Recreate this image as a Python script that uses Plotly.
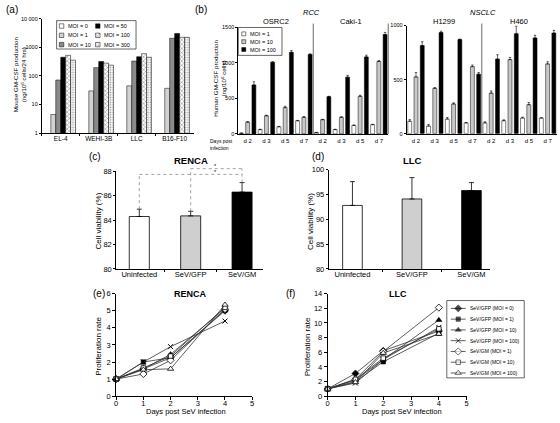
import plotly.graph_objects as go

W, H = 560, 423
FONT = "Liberation Sans, Arial, sans-serif"

# ======================= DATA =======================
# (a) mouse GM-CSF production (ng/10^6 cells/24 hrs), log scale
a_cells = ["EL-4", "WEHI-3B", "LLC", "B16-F10"]
a_moi_names = ["MOI = 0", "MOI = 1", "MOI = 10", "MOI = 50", "MOI = 100", "MOI = 300"]
a_moi0 = [None, None, None, None]          # not detected
a_moi1 = [4.5, 30, 45, 37]
a_moi10 = [72, 195, 330, 2070]
a_moi50 = [450, 320, 470, 3050]
a_moi100 = [525, 280, 600, 2230]
a_moi300 = [355, 238, 450, 2230]
a_tickvals = [1, 10, 100, 1000, 10000]
a_ticktext = ["1", "10", "100", "1000", "10 000"]

# (b) human GM-CSF production (ng/10^6 cells)
b_days = ["d 2", "d 3", "d 5", "d 7"]
b_moi_names = ["MOI = 1", "MOI = 10", "MOI = 100"]
b_rcc_lines = ["OSRC2", "Caki-1"]
b_nsclc_lines = ["H1299", "H460"]
# each list: first cell line d2,d3,d5,d7 then second cell line d2,d3,d5,d7
b_rcc_moi1 = [10, 60, 100, 185, 20, 60, 120, 130]
b_rcc_moi1_err = [0, 5, 5, 5, 0, 5, 5, 5]
b_rcc_moi10 = [165, 255, 370, 235, 200, 235, 530, 1020]
b_rcc_moi10_err = [8, 8, 20, 8, 5, 5, 15, 15]
b_rcc_moi100 = [690, 1010, 1150, 1120, 525, 800, 1085, 1400]
b_rcc_moi100_err = [45, 8, 25, 8, 5, 25, 25, 30]
b_nsclc_moi1 = [115, 70, 135, 100, 100, 120, 145, 145]
b_nsclc_moi1_err = [15, 15, 15, 3, 10, 8, 8, 3]
b_nsclc_moi10 = [525, 420, 275, 620, 375, 685, 268, 645]
b_nsclc_moi10_err = [40, 5, 10, 15, 20, 20, 20, 20]
b_nsclc_moi100 = [815, 935, 870, 550, 690, 925, 885, 930]
b_nsclc_moi100_err = [35, 12, 5, 15, 40, 70, 25, 25]

# (c)/(d) cell viability (%)
cd_groups = ["Uninfected", "SeV/GFP", "SeV/GM"]
c_vals = [84.3, 84.35, 86.3]
c_err = [0.6, 0.38, 0.78]
d_vals = [92.8, 94.1, 95.8]
d_err = [4.8, 4.3, 1.6]

# (e)/(f) proliferation rate
ef_days = [0, 1, 2, 4]
ef_names = ["SeV/GFP (MOI = 0)", "SeV/GFP (MOI = 1)", "SeV/GFP (MOI = 10)",
            "SeV/GFP (MOI = 100)", "SeV/GM (MOI = 1)", "SeV/GM (MOI = 10)",
            "SeV/GM (MOI = 100)"]
e_gfp0 = [1, 1.6, 2.25, 5.0]
e_gfp1 = [1, 2.0, 2.25, 5.05]
e_gfp10 = [1, 1.6, 2.45, 5.15]
e_gfp100 = [1, 2.0, 2.9, 4.4]
e_gm1 = [1, 1.3, 2.1, 5.1]
e_gm10 = [1, 1.65, 2.35, 5.2]
e_gm100 = [1, 1.55, 1.6, 5.35]
f_gfp0 = [1, 3.1, 6.2, 8.9]
f_gfp1 = [1, 2.0, 4.7, 8.6]
f_gfp10 = [1, 2.2, 5.0, 10.4]
f_gfp100 = [1, 1.8, 5.0, 9.4]
f_gm1 = [1, 2.3, 6.1, 12.1]
f_gm10 = [1, 2.3, 5.2, 9.2]
f_gm100 = [1, 1.9, 5.9, 8.5]

# ======================= LAYOUT (pixels) =======================
A = dict(l=40, r=193, t=15, b=132)
BR = dict(l=238, r=389, t=24, b=132.7)
BN = dict(l=407.5, r=559, t=22, b=132.5)
C = dict(l=115, r=263, t=171, b=270.7)
D = dict(l=329, r=492, t=169.3, b=270.7)
E = dict(l=115, r=252, t=296, b=400.7)
F = dict(l=328, r=468, t=296, b=400.7)


def dx(p):
    return [p['l'] / W, p['r'] / W]


def dy(p):
    return [1 - p['b'] / H, 1 - p['t'] / H]


def tf(size):
    return dict(family=FONT, size=size, color='black')


def axstyle(**kw):
    d = dict(showline=True, linecolor='black', linewidth=0.8, showgrid=False,
             zeroline=False, ticks='outside', ticklen=2, tickwidth=0.7,
             tickcolor='black', tickfont=tf(7), fixedrange=True)
    d.update(kw)
    return d


A_STYLES = [
    dict(color='white'),
    dict(color='#d2d2d2'),
    dict(color='#8a8a8a'),
    dict(color='black'),
    dict(color='white', pattern=dict(shape='x', fgcolor='black', bgcolor='white', size=3, solidity=0.3)),
    dict(color='white', pattern=dict(shape='.', fgcolor='#444444', bgcolor='white', size=2.5, solidity=0.35)),
]
B_COLORS = ['white', '#c8c8c8', 'black']
CD_COLORS = ['white', '#cfcfcf', 'black']


def bar_marker(st, lw=0.5):
    m = dict(color=st.get('color', 'white'), line=dict(color='black', width=lw))
    if 'pattern' in st:
        m['pattern'] = st['pattern']
    return m


fig = go.Figure()

# ---- (a) ----
a_series = [a_moi0, a_moi1, a_moi10, a_moi50, a_moi100, a_moi300]
A_BW = 0.13
for k, vals in enumerate(a_series):
    fig.add_trace(go.Bar(x=a_cells, y=vals, width=A_BW, offset=(k - 3) * A_BW,
                         marker=bar_marker(A_STYLES[k]), name=a_moi_names[k],
                         xaxis='x', yaxis='y', showlegend=False, hoverinfo='skip'))

# ---- (b) ----
B_BW, B_STEP = 0.21, 0.333
b_x = list(range(len(b_rcc_moi1)))
rcc = [(b_rcc_moi1, b_rcc_moi1_err), (b_rcc_moi10, b_rcc_moi10_err), (b_rcc_moi100, b_rcc_moi100_err)]
nsclc = [(b_nsclc_moi1, b_nsclc_moi1_err), (b_nsclc_moi10, b_nsclc_moi10_err), (b_nsclc_moi100, b_nsclc_moi100_err)]
for group, (xa, ya) in ((rcc, ('x2', 'y2')), (nsclc, ('x3', 'y3'))):
    for k, (vals, err) in enumerate(group):
        fig.add_trace(go.Bar(
            x=b_x, y=vals, width=B_BW, offset=(k - 1) * B_STEP - B_BW / 2,
            marker=dict(color=B_COLORS[k], line=dict(color='black', width=0.5)),
            error_y=dict(type='data', array=err, arrayminus=[0] * len(err), symmetric=False,
                         color='black', thickness=0.6, width=1.2),
            name=b_moi_names[k], xaxis=xa, yaxis=ya, showlegend=False, hoverinfo='skip'))

# ---- (c), (d) ----
C_BW, D_BW = 0.39, 0.33
for vals, err, bw, xa, ya in ((c_vals, c_err, C_BW, 'x4', 'y4'), (d_vals, d_err, D_BW, 'x5', 'y5')):
    fig.add_trace(go.Bar(
        x=cd_groups, y=vals, width=bw, offset=-bw / 2,
        marker=dict(color=CD_COLORS, line=dict(color='black', width=0.8)),
        error_y=dict(type='data', array=err, arrayminus=[0] * len(err), symmetric=False,
                     color='black', thickness=0.8, width=2.5),
        xaxis=xa, yaxis=ya, showlegend=False, hoverinfo='skip'))

# ---- (e), (f) ----
EF_MARKERS = [
    dict(symbol='diamond', color='black', size=5.5, line=dict(color='black', width=0.5)),
    dict(symbol='square', color='black', size=4.5, line=dict(color='black', width=0.5)),
    dict(symbol='triangle-up', color='black', size=5.5, line=dict(color='black', width=0.5)),
    dict(symbol='x-thin-open', color='black', size=5, line=dict(color='black', width=1)),
    dict(symbol='diamond', color='white', size=5.5, line=dict(color='black', width=0.8)),
    dict(symbol='square', color='white', size=4.5, line=dict(color='black', width=0.8)),
    dict(symbol='triangle-up', color='white', size=5.5, line=dict(color='black', width=0.8)),
]
e_series = [e_gfp0, e_gfp1, e_gfp10, e_gfp100, e_gm1, e_gm10, e_gm100]
f_series = [f_gfp0, f_gfp1, f_gfp10, f_gfp100, f_gm1, f_gm10, f_gm100]
for series, xa, ya in ((e_series, 'x6', 'y6'), (f_series, 'x7', 'y7')):
    for k, vals in enumerate(series):
        fig.add_trace(go.Scatter(x=ef_days, y=vals, mode='lines+markers', name=ef_names[k],
                                 line=dict(color='#333333', width=0.8), marker=EF_MARKERS[k],
                                 cliponaxis=False, xaxis=xa, yaxis=ya, showlegend=False,
                                 hoverinfo='skip'))

# ---- overlay (pixel coordinates) for legends and labels ----
annotations = []
shapes = []


def txt(x, y, s, size, xanchor='center', **kw):
    annotations.append(dict(x=x, y=y, xref='x8', yref='y8', text=s, showarrow=False,
                            font=tf(size), xanchor=xanchor, yanchor='middle', **kw))


def line(x0, y0, x1, y1, color='black', width=0.7, dash='solid'):
    shapes.append(dict(type='line', xref='x8', yref='y8', x0=x0, y0=y0, x1=x1, y1=y1,
                       line=dict(color=color, width=width, dash=dash)))


def rect(x0, y0, x1, y1, width=0.6):
    shapes.append(dict(type='rect', xref='x8', yref='y8', x0=x0, y0=y0, x1=x1, y1=y1,
                       line=dict(color='black', width=width), fillcolor='rgba(0,0,0,0)'))


def swatch(cx, cy, size, marker):
    fig.add_trace(go.Bar(x=[cx], y=[size], base=[cy - size / 2], width=[size], offset=-size / 2,
                         marker=marker, xaxis='x8', yaxis='y8', showlegend=False,
                         hoverinfo='skip'))


# legend (a)
rect(55, 17, 135, 46)
for k, name in enumerate(a_moi_names):
    col, row = k // 3, k % 3
    sx = 60 + col * 36.5
    sy = 22.5 + row * 9.5
    swatch(sx, sy, 4.5, bar_marker(A_STYLES[k]))
    txt(sx + 4.5, sy, name, 5.5, xanchor='left')

# legend (b)
rect(BR['l'], 24, 282, 52.5)
for k, name in enumerate(b_moi_names):
    sy = 30.5 + k * 8
    swatch(243.5, sy, 4, dict(color=B_COLORS[k], line=dict(color='black', width=0.5)))
    txt(247.5, sy, name, 5.5, xanchor='left')

# legend (f)
rect(448, 303, 526, 382)
for k, name in enumerate(ef_names):
    sy = 311 + k * 11
    fig.add_trace(go.Scatter(x=[452, 459.5, 467], y=[sy, sy, sy], mode='lines+markers',
                             line=dict(color='#333333', width=0.8),
                             marker=dict(EF_MARKERS[k], size=[0, EF_MARKERS[k]['size'], 0]),
                             xaxis='x8', yaxis='y8', showlegend=False, hoverinfo='skip'))
    txt(469, sy, name, 5, xanchor='left')

# panel labels / titles
txt(10.5, 6, "(a)", 10)
txt(200, 6, "(b)", 10)
txt(94, 156, "(c)", 10)
txt(318, 156, "(d)", 10)
txt(98, 296, "(e)", 10)
txt(291, 296, "(f)", 10)

txt(312, 9, "<i>RCC</i>", 7.5)
txt(484, 9, "<i>NSCLC</i>", 7.5)
txt(BR['l'] + (BR['r'] - BR['l']) / 4, 17.5, b_rcc_lines[0], 7.5)
txt(BR['l'] + 3 * (BR['r'] - BR['l']) / 4, 17.5, b_rcc_lines[1], 7.5)
txt(BN['l'] + (BN['r'] - BN['l']) / 4, 17.5, b_nsclc_lines[0], 7.5)
txt(BN['l'] + 3 * (BN['r'] - BN['l']) / 4, 17.5, b_nsclc_lines[1], 7.5)

txt(190, 160, "<b>RENCA</b>", 9.5)
txt(413, 160, "<b>LLC</b>", 9.5)
txt(190, 296, "<b>RENCA</b>", 9)
txt(399, 296, "<b>LLC</b>", 9)

# axis titles
txt(18, 72, "Mouse GM-CSF production<br>(ng/10<sup>6</sup> cells/24 hrs)", 6.2, textangle=-90)
txt(219, 76, "Human GM-CSF production<br>(ng/10<sup>6</sup> cells)", 6.2, textangle=-90)
txt(207, 143.5, "Days post<br>infection", 5, xanchor='left', align='left')
txt(97, 222, "Cell viability (%)", 8, textangle=-90)
txt(310, 222, "Cell viability (%)", 8, textangle=-90)
txt(97, 350, "Proliferation rate", 8, textangle=-90)
txt(308, 350, "Proliferation rate", 8, textangle=-90)
txt((E['l'] + E['r']) / 2 + 2, 416.5, "Days post SeV infection", 7.5)
txt((F['l'] + F['r']) / 2 + 5, 416.5, "Days post SeV infection", 7.5)

# (b) separators
for p in (BR, BN):
    mid = p['l'] + (p['r'] - p['l']) / 2
    line(mid, 20, mid, p['b'], color='#444444', width=0.8)
line(BR['r'], 20, BR['r'], BR['b'], color='#444444', width=0.8)

# (c) significance brackets (mapped from data values)
C_RANGE_X = [-0.45, 2.41]
C_RANGE_Y = [80, 88]


def c_px_x(i):
    return C['l'] + (i - C_RANGE_X[0]) / (C_RANGE_X[1] - C_RANGE_X[0]) * (C['r'] - C['l'])


def c_px_y(v):
    return C['b'] - (v - C_RANGE_Y[0]) / (C_RANGE_Y[1] - C_RANGE_Y[0]) * (C['b'] - C['t'])


sig_levels = [87.75, 88.22]   # bracket heights: Uninfected-SeV/GM, SeV/GFP-SeV/GM
for i, lvl in ((0, sig_levels[0]), (1, sig_levels[1])):
    top_v = c_vals[i] + c_err[i]
    line(c_px_x(i), c_px_y(top_v), c_px_x(i), c_px_y(lvl), color='#888888', width=0.8, dash='dot')
    line(c_px_x(i), c_px_y(lvl), c_px_x(2), c_px_y(lvl), color='#888888', width=0.8, dash='dot')
line(c_px_x(2), c_px_y(c_vals[2] + c_err[2]), c_px_x(2), c_px_y(sig_levels[1]),
     color='#888888', width=0.8, dash='dot')
txt(215, c_px_y(sig_levels[1]) - 3, "*", 5.5)
txt(215, c_px_y(sig_levels[0]) - 2, "*", 5.5)

fig.update_layout(
    width=W, height=H, autosize=False, margin=dict(l=0, r=0, t=0, b=0),
    paper_bgcolor='white', plot_bgcolor='rgba(0,0,0,0)', showlegend=False,
    barmode='overlay', font=dict(family=FONT, color='black'),
    annotations=annotations, shapes=shapes,
    xaxis=axstyle(domain=dx(A), anchor='y', type='category', categoryarray=a_cells,
                  range=[-0.5, 3.5], tickson='boundaries', tickfont=tf(6.5), ticklabelstandoff=-1),
    yaxis=axstyle(domain=dy(A), anchor='x', type='log', range=[0, 4],
                  tickvals=a_tickvals, ticktext=a_ticktext, tickfont=tf(5.5)),
    xaxis2=axstyle(domain=dx(BR), anchor='y2', range=[-0.5, 7.5], tickvals=b_x,
                   ticktext=b_days * 2, ticks='', tickfont=tf(6), ticklabelstandoff=1),
    yaxis2=axstyle(domain=dy(BR), anchor='x2', range=[0, 1500], tickvals=[0, 500, 1000, 1500],
                   tickfont=tf(5.5)),
    xaxis3=axstyle(domain=dx(BN), anchor='y3', range=[-0.5, 7.5], tickvals=b_x,
                   ticktext=b_days * 2, ticks='', tickfont=tf(6), ticklabelstandoff=1),
    yaxis3=axstyle(domain=dy(BN), anchor='x3', range=[0, 1000], tickvals=[0, 500, 1000],
                   tickfont=tf(5.5)),
    xaxis4=axstyle(domain=dx(C), anchor='y4', type='category', categoryarray=cd_groups,
                   range=C_RANGE_X, tickson='boundaries', tickfont=tf(7.5), ticklabelstandoff=-2),
    yaxis4=axstyle(domain=dy(C), anchor='x4', range=C_RANGE_Y, dtick=2, tickfont=tf(7.5)),
    xaxis5=axstyle(domain=dx(D), anchor='y5', type='category', categoryarray=cd_groups,
                   range=[-0.4, 2.32], tickson='boundaries', tickfont=tf(7.5), ticklabelstandoff=-2),
    yaxis5=axstyle(domain=dy(D), anchor='x5', range=[80, 100], dtick=5, tickfont=tf(7.5)),
    xaxis6=axstyle(domain=dx(E), anchor='y6', range=[0, 5], dtick=1, ticklen=3, tickfont=tf(7.5),
                   ticklabelstandoff=-3),
    yaxis6=axstyle(domain=dy(E), anchor='x6', range=[0, 6], dtick=1, ticklen=3, tickfont=tf(7.5)),
    xaxis7=axstyle(domain=dx(F), anchor='y7', range=[0, 5], dtick=1, ticklen=3, tickfont=tf(7.5),
                   ticklabelstandoff=-3),
    yaxis7=axstyle(domain=dy(F), anchor='x7', range=[0, 14], dtick=2, ticklen=3, tickfont=tf(7.5)),
    xaxis8=dict(domain=[0, 1], range=[0, W], visible=False, anchor='y8', fixedrange=True),
    yaxis8=dict(domain=[0, 1], range=[H, 0], visible=False, anchor='x8', fixedrange=True),
)

fig.write_html("out.html", config={'displayModeBar': False},
               post_script="document.body.style.margin='0';document.body.style.overflow='hidden';")
